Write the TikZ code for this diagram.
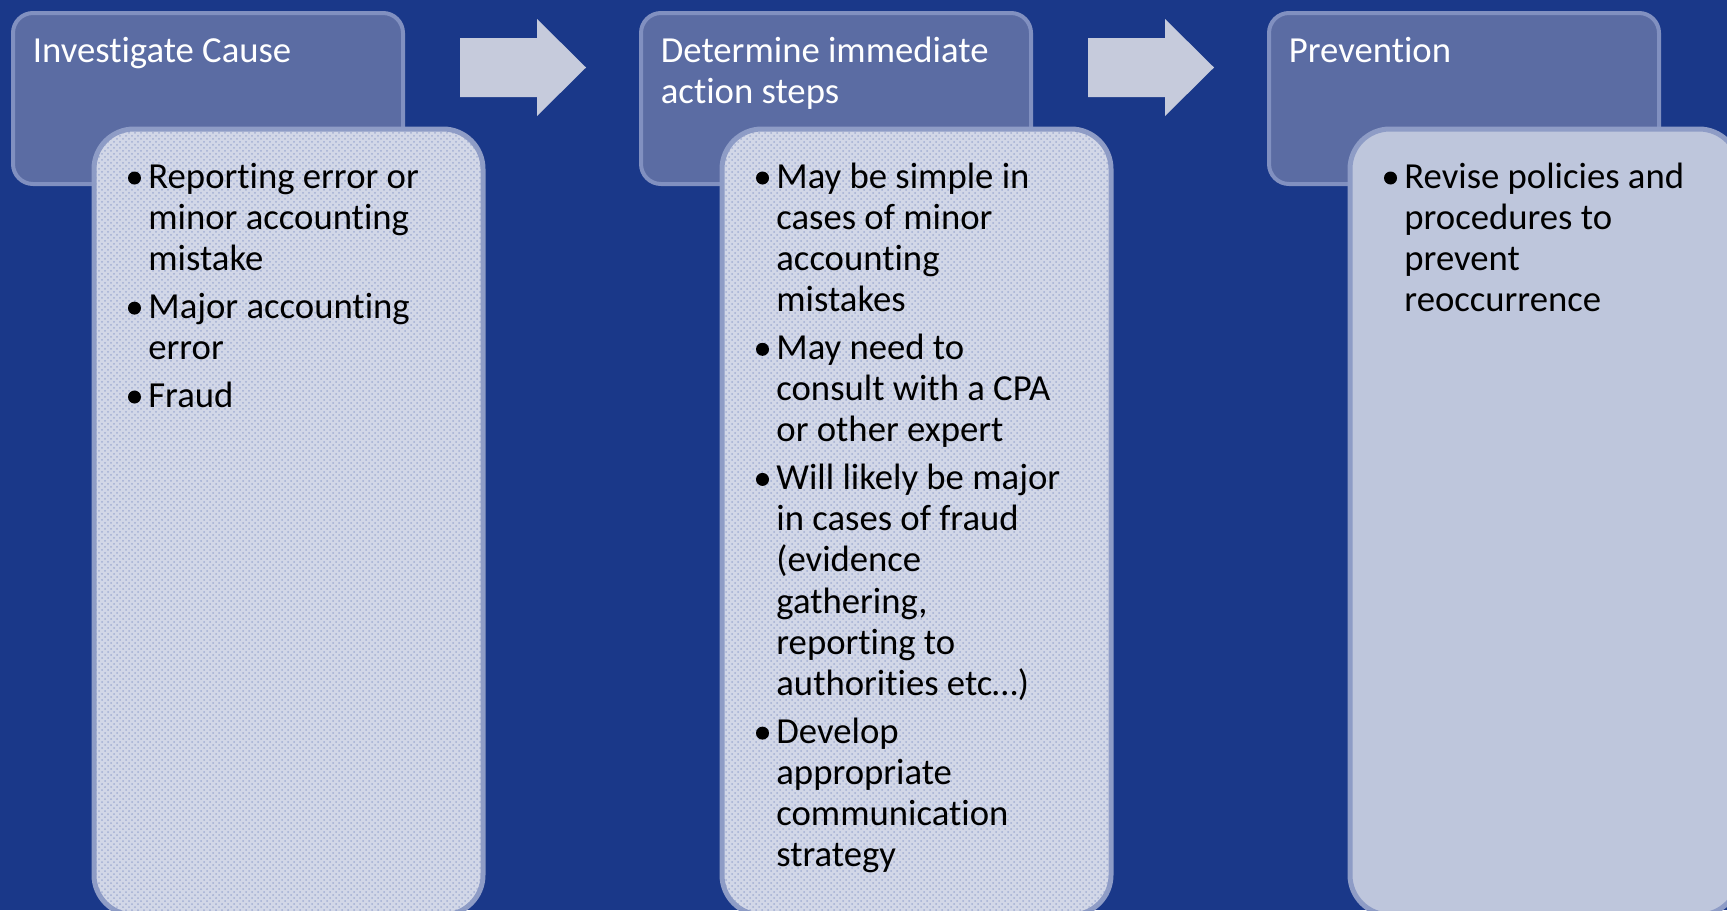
\documentclass[tikz,border=0pt]{standalone}
\usepackage{fontspec}
\setmainfont{Carlito}[Ligatures={NoCommon}]
\usetikzlibrary{patterns}
\definecolor{bg}{HTML}{1A3889}
\definecolor{hdrfill}{HTML}{5B6CA3}
\definecolor{hdrline}{HTML}{8190C0}
\definecolor{bodyfill}{HTML}{D2D7E7}
\definecolor{bodyfillb}{HTML}{BEC6DC}
\definecolor{bodyline}{HTML}{8E9CC6}
\definecolor{arrowfill}{HTML}{C6CBDC}
\definecolor{dotcol}{HTML}{A3AFD3}
\begin{document}
\begin{tikzpicture}[x=0.5pt,y=-0.5pt,
  hdrbox/.style={rectangle, draw=hdrline, line width=2pt, fill=hdrfill, rounded corners=10pt,
    anchor=north west, inner sep=0pt, minimum width=195pt, minimum height=85.5pt},
  bodybox/.style={rectangle, draw=bodyline, line width=2.5pt, rounded corners=20pt,
    anchor=north west, inner sep=0pt, minimum width=194.5pt, minimum height=393pt},
  dotted box/.style={bodybox, preaction={fill=bodyfill}, pattern=crosshatch dots, pattern color=dotcol},
  plain box/.style={bodybox, fill=bodyfillb},
  flowarrow/.style={fill=arrowfill},
  hdrtxt/.style={anchor=base west, inner sep=0pt, text=white, font=\fontsize{18.35}{20.6}\selectfont},
  itemtxt/.style={anchor=base west, inner sep=0pt, text=black, font=\fontsize{18.35}{20.6}\selectfont},
  bul/.style={circle, fill=black, inner sep=0pt, minimum size=6.5pt}
]
\useasboundingbox (0,0) rectangle (1727,910);
\fill[bg] (0,0) rectangle (1727,910);
\clip (0,0) rectangle (1727,910);

% arrows
\fill[flowarrow] (460,38) -- (537,38) -- (537,19) -- (586,67.5) -- (537,116) -- (537,97) -- (460,97) -- cycle;
\fill[flowarrow] (1088,38) -- (1165,38) -- (1165,19) -- (1214,67.5) -- (1165,116) -- (1165,97) -- (1088,97) -- cycle;

% header boxes
\node[hdrbox] (hb1) at (11,11) {};
\node[hdrbox] (hb2) at (639,11) {};
\node[hdrbox] (hb3) at (1267,11) {};

% body boxes
\node[dotted box] (bb1) at (91.5,126.5) {};
\node[dotted box] (bb2) at (719.5,126.5) {};
\node[plain box] (bb3) at (1347.5,126.5) {};

% header texts
\node[hdrtxt] (h1) at (32.5,62) {Investigate Cause};
\node[hdrtxt] (h2) at (660.5,62) {\parbox[t]{250pt}{Determine immediate\\action steps}};
\node[hdrtxt] (h3) at (1288.5,62) {Prevention};

% column 1
\node[bul] (b11) at (134.5,178) {};
\node[itemtxt] (t11) at (148,188) {\parbox[t]{250pt}{Reporting error or\\minor accounting\\mistake}};
\node[bul] (b12) at (134.5,308.1) {};
\node[itemtxt] (t12) at (148,318.1) {\parbox[t]{250pt}{Major accounting\\error}};
\node[bul] (b13) at (134.5,397) {};
\node[itemtxt] (t13) at (148,407) {Fraud};

% column 2
\node[bul] (b21) at (762.5,178) {};
\node[itemtxt] (t21) at (776,188) {\parbox[t]{250pt}{May be simple in\\cases of minor\\accounting\\mistakes}};
\node[bul] (b22) at (762.5,349.3) {};
\node[itemtxt] (t22) at (776,359.3) {\parbox[t]{250pt}{May need to\\consult with a CPA\\or other expert}};
\node[bul] (b23) at (762.5,479.4) {};
\node[itemtxt] (t23) at (776,489.4) {\parbox[t]{250pt}{Will likely be major\\in cases of fraud\\(evidence\\gathering,\\reporting to\\authorities etc…)}};
\node[bul] (b24) at (762.5,733.1) {};
\node[itemtxt] (t24) at (776,743.1) {\parbox[t]{250pt}{Develop\\appropriate\\communication\\strategy}};

% column 3
\node[bul] (b31) at (1390.5,178) {};
\node[itemtxt] (t31) at (1404,188) {\parbox[t]{250pt}{Revise policies and\\procedures to\\prevent\\reoccurrence}};
\end{tikzpicture}
\end{document}
